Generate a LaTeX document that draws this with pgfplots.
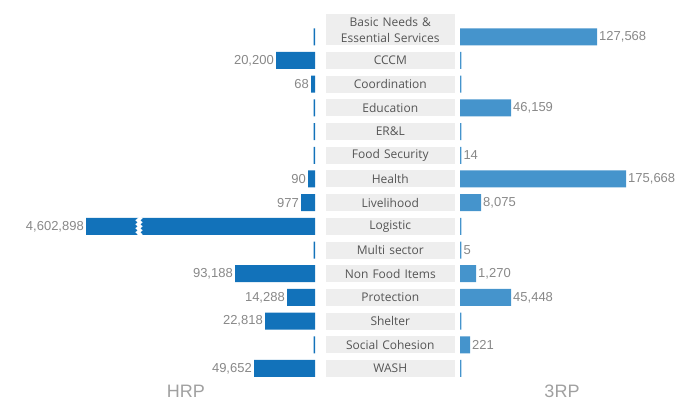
\documentclass[border=0pt]{standalone}
\usepackage{pgfplots}
\pgfplotsset{compat=1.18}
\usepackage{pgfplotstable}
\usepackage{fontspec}
\setmainfont{Liberation Sans}
\newfontfamily\catfont{Open Sans}
\usetikzlibrary{decorations.pathmorphing}
\definecolor{hrp}{RGB}{18,114,186}
\definecolor{rrp}{RGB}{69,148,204}
\definecolor{boxgray}{RGB}{238,238,238}
\definecolor{catgray}{RGB}{85,85,85}
\definecolor{numgray}{RGB}{136,136,136}
\definecolor{titlegray}{RGB}{160,160,160}

% row = category index (1 = Basic Needs ... 15 = WASH)
% len = drawn bar length (the source infographic is not to scale), label = value
\pgfplotstableread{
row len label
2 39 20,200
3 4 68
7 7 90
8 14 977
9 229 4,602,898
11 80 93,188
12 28 14,288
13 50 22,818
15 61 49,652
}\hrpbars
\pgfplotstableread{
row len
1 1.3
4 1.3
5 1.3
6 1.3
10 1.3
14 1.3
}\hrpzero
\pgfplotstableread{
row len label
1 137 127,568
4 51 46,159
6 1.3 14
7 166 175,668
8 21 8,075
10 1.3 5
11 16 1,270
12 51 45,448
14 10 221
}\rrpbars
\pgfplotstableread{
row len
2 1.3
3 1.3
5 1.3
9 1.3
13 1.3
15 1.3
}\rrpzero

\pgfplotsset{bfly/.style={
  scale only axis, height=400pt,
  ymin=-0.5534, ymax=16.331, y dir=reverse,
  axis line style={draw=none}, tick style={draw=none},
  major tick length=0pt, xtick=\empty, clip=false,
  every node near coord/.append style={font=\fontsize{13}{15}\selectfont, text=numgray, inner sep=2pt},
}}

\begin{document}
\begin{tikzpicture}
\path[use as bounding box] (0,0) rectangle (691pt,400pt);
% HRP side
\begin{axis}[bfly, at={(0pt,0pt)}, anchor=south west, width=315pt,
  xmin=-315, xmax=0, ytick=\empty]
\addplot[xbar, bar shift=0pt, bar width=17pt, fill=hrp, draw=none,
  point meta=explicit symbolic, nodes near coords,
  every node near coord/.append style={anchor=east}]
  table[x expr=-\thisrow{len}, y=row, meta=label] {\hrpbars};
\addplot[xbar, bar shift=0pt, bar width=17pt, fill=hrp, draw=none]
  table[x expr=-\thisrow{len}, y=row] {\hrpzero};
\draw[white, line width=3.2pt, decorate, decoration={zigzag, amplitude=1.2pt, segment length=4pt}]
  (axis cs:-176,8.62) -- (axis cs:-176,9.38);
\end{axis}
% 3RP side
\begin{axis}[bfly, at={(460pt,0pt)}, anchor=south west, width=231pt,
  xmin=0, xmax=231,
  ytick={0.692,2,3,4,5,6,7,8,9,10,11,12,13,14,15},
  yticklabels={{Basic Needs \&\\Essential Services}, CCCM, Coordination, Education, ER\&L, Food Security, Health, Livelihood, Logistic, Multi sector, Non Food Items, Protection, Shelter, Social Cohesion, WASH},
  yticklabel style={font=\catfont\fontsize{12}{16}\selectfont, text=catgray, fill=boxgray,
    text width=129pt, align=center, inner xsep=0pt, inner ysep=2.5pt,
    minimum height=17pt, anchor=east, xshift=-5pt}]
\addplot[xbar, bar shift=0pt, bar width=17pt, fill=rrp, draw=none,
  point meta=explicit symbolic, nodes near coords,
  every node near coord/.append style={anchor=west}]
  table[x=len, y=row, meta=label] {\rrpbars};
\addplot[xbar, bar shift=0pt, bar width=17pt, fill=rrp, draw=none]
  table[x=len, y=row] {\rrpzero};
\end{axis}
\node[anchor=base, inner sep=0pt, text=titlegray, font=\fontsize{18}{20}\selectfont] at (186pt,3pt) {HRP};
\node[anchor=base, inner sep=0pt, text=titlegray, font=\fontsize{18}{20}\selectfont] at (562pt,3pt) {3RP};
\end{tikzpicture}
\end{document}
